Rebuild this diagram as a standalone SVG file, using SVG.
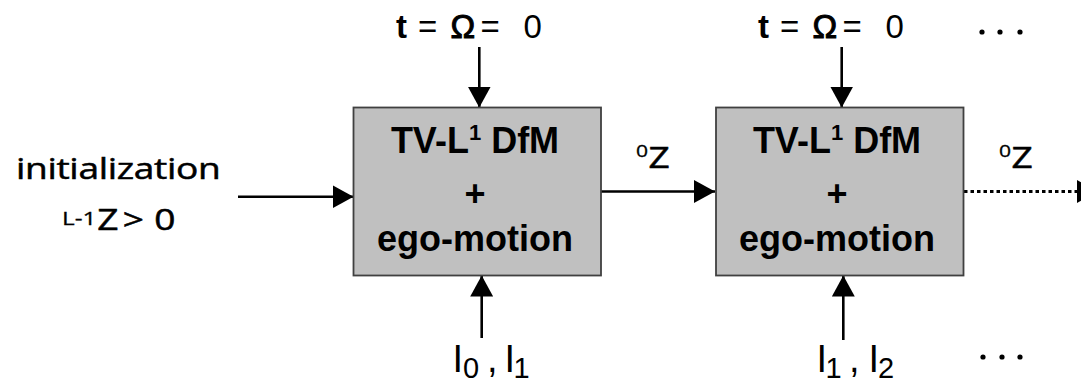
<svg xmlns="http://www.w3.org/2000/svg" width="1081" height="383" viewBox="0 0 1081 383">
  <style>
    .box { fill: #c0c0c0; stroke: #404040; stroke-width: 1.8; }
    .bt { font-family: "Liberation Sans", Arial, sans-serif; font-weight: bold; font-size: 36px; fill: #000; text-anchor: middle; }
    .rt { font-family: "Open Sans", "Liberation Sans", sans-serif; font-size: 29px; fill: #000; stroke: #000; stroke-width: 0.5; }
    .tt { font-family: "Liberation Sans", Arial, sans-serif; font-size: 33px; fill: #000; }
    .it { font-family: "Liberation Sans", Arial, sans-serif; font-size: 38px; fill: #000; }
    .sub { font-family: "Liberation Sans", Arial, sans-serif; font-size: 29px; fill: #000; }
    .b { font-weight: bold; }
    .om { stroke: #000; stroke-width: 1; }
    .arr { stroke: #000; stroke-width: 2.6; fill: none; marker-end: url(#ah); }
    .dot { stroke: #000; stroke-width: 3; fill: none; stroke-dasharray: 3.5 3; marker-end: url(#ah); }
  </style>
  <defs>
    <marker id="ah" viewBox="0 0 21 23" refX="21" refY="11.5" markerWidth="21" markerHeight="23" markerUnits="userSpaceOnUse" orient="auto">
      <path d="M0,0 L21,11.5 L0,23 z" fill="#000"/>
    </marker>
  </defs>
  <rect width="1081" height="383" fill="#fff"/>

  <g id="connectors">
    <path class="arr" d="M238,196.7 L353.5,196.7"/>
    <path class="arr" d="M479.3,47 L479.3,107.5"/>
    <path class="arr" d="M481.7,338 L481.7,275.5"/>
    <path class="arr" d="M601,191.5 L715,191.5"/>
    <path class="arr" d="M841.7,47 L841.7,107.5"/>
    <path class="arr" d="M843.3,340 L843.3,275.5"/>
    <path class="dot" d="M964,191.5 L1098,191.5"/>
  </g>

  <g id="init-label">
    <g transform="translate(16,179) scale(1.28,1)">
      <text class="rt" x="0" y="0" textLength="160" lengthAdjust="spacing">initialization</text>
    </g>
    <g transform="translate(62,230) scale(1.28,1)">
      <text class="rt"><tspan x="0" y="-5" font-size="19" stroke-width="0.3">L-1</tspan><tspan x="27.5" y="0">Z</tspan><tspan x="47.5" y="0">&gt;</tspan><tspan x="72" y="0">0</tspan></text>
    </g>
  </g>

  <g id="node1">
    <rect class="box" x="353.5" y="107.5" width="247.5" height="168"/>
    <text class="bt" x="475" y="153">TV-L<tspan font-size="22" dy="-13">1</tspan><tspan dy="13"> DfM</tspan></text>
    <text class="bt" x="475" y="206">+</text>
    <text class="bt" x="475" y="251">ego-motion</text>
  </g>

  <g id="node2">
    <rect class="box" x="716" y="107.5" width="247.5" height="168"/>
    <text class="bt" x="837" y="153">TV-L<tspan font-size="22" dy="-13">1</tspan><tspan dy="13"> DfM</tspan></text>
    <text class="bt" x="837" y="206">+</text>
    <text class="bt" x="837" y="251">ego-motion</text>
  </g>

  <g id="top-label-1">
    <text class="tt"><tspan class="b" x="396" y="38">t</tspan><tspan x="418" y="38">=</tspan><tspan class="om" x="450.5" y="38">Ω</tspan><tspan x="480.5" y="38">=</tspan><tspan x="523.5" y="38">0</tspan></text>
  </g>
  <g id="top-label-2">
    <text class="tt"><tspan class="b" x="758" y="38">t</tspan><tspan x="780" y="38">=</tspan><tspan class="om" x="812.5" y="38">Ω</tspan><tspan x="842.5" y="38">=</tspan><tspan x="885.5" y="38">0</tspan></text>
  </g>
  <g id="top-dots">
    <circle cx="982" cy="32" r="2.6" fill="#000"/>
    <circle cx="1000" cy="32" r="2.6" fill="#000"/>
    <circle cx="1020" cy="32" r="2.6" fill="#000"/>
  </g>

  <g id="z-label-1">
    <g transform="translate(636,168) scale(1.28,1)">
      <text class="rt"><tspan x="0" y="-11" font-size="16.5" stroke-width="0.3">0</tspan><tspan x="9.8" y="0">Z</tspan></text>
    </g>
  </g>
  <g id="z-label-2">
    <g transform="translate(999,168) scale(1.28,1)">
      <text class="rt"><tspan x="0" y="-11" font-size="16.5" stroke-width="0.3">0</tspan><tspan x="9.8" y="0">Z</tspan></text>
    </g>
  </g>

  <g id="bottom-label-1">
    <text class="it"><tspan x="452.5" y="372">I</tspan><tspan class="sub" x="463" y="378">0</tspan><tspan x="487" y="372">,</tspan><tspan x="504.5" y="372">I</tspan><tspan class="sub" x="513.5" y="378">1</tspan></text>
  </g>
  <g id="bottom-label-2">
    <text class="it"><tspan x="816.5" y="372">I</tspan><tspan class="sub" x="825.5" y="378">1</tspan><tspan x="849" y="372">,</tspan><tspan x="868.5" y="372">I</tspan><tspan class="sub" x="878" y="378">2</tspan></text>
  </g>
  <g id="bottom-dots">
    <circle cx="983" cy="357" r="2.6" fill="#000"/>
    <circle cx="1002" cy="357" r="2.6" fill="#000"/>
    <circle cx="1020" cy="357" r="2.6" fill="#000"/>
  </g>
</svg>
